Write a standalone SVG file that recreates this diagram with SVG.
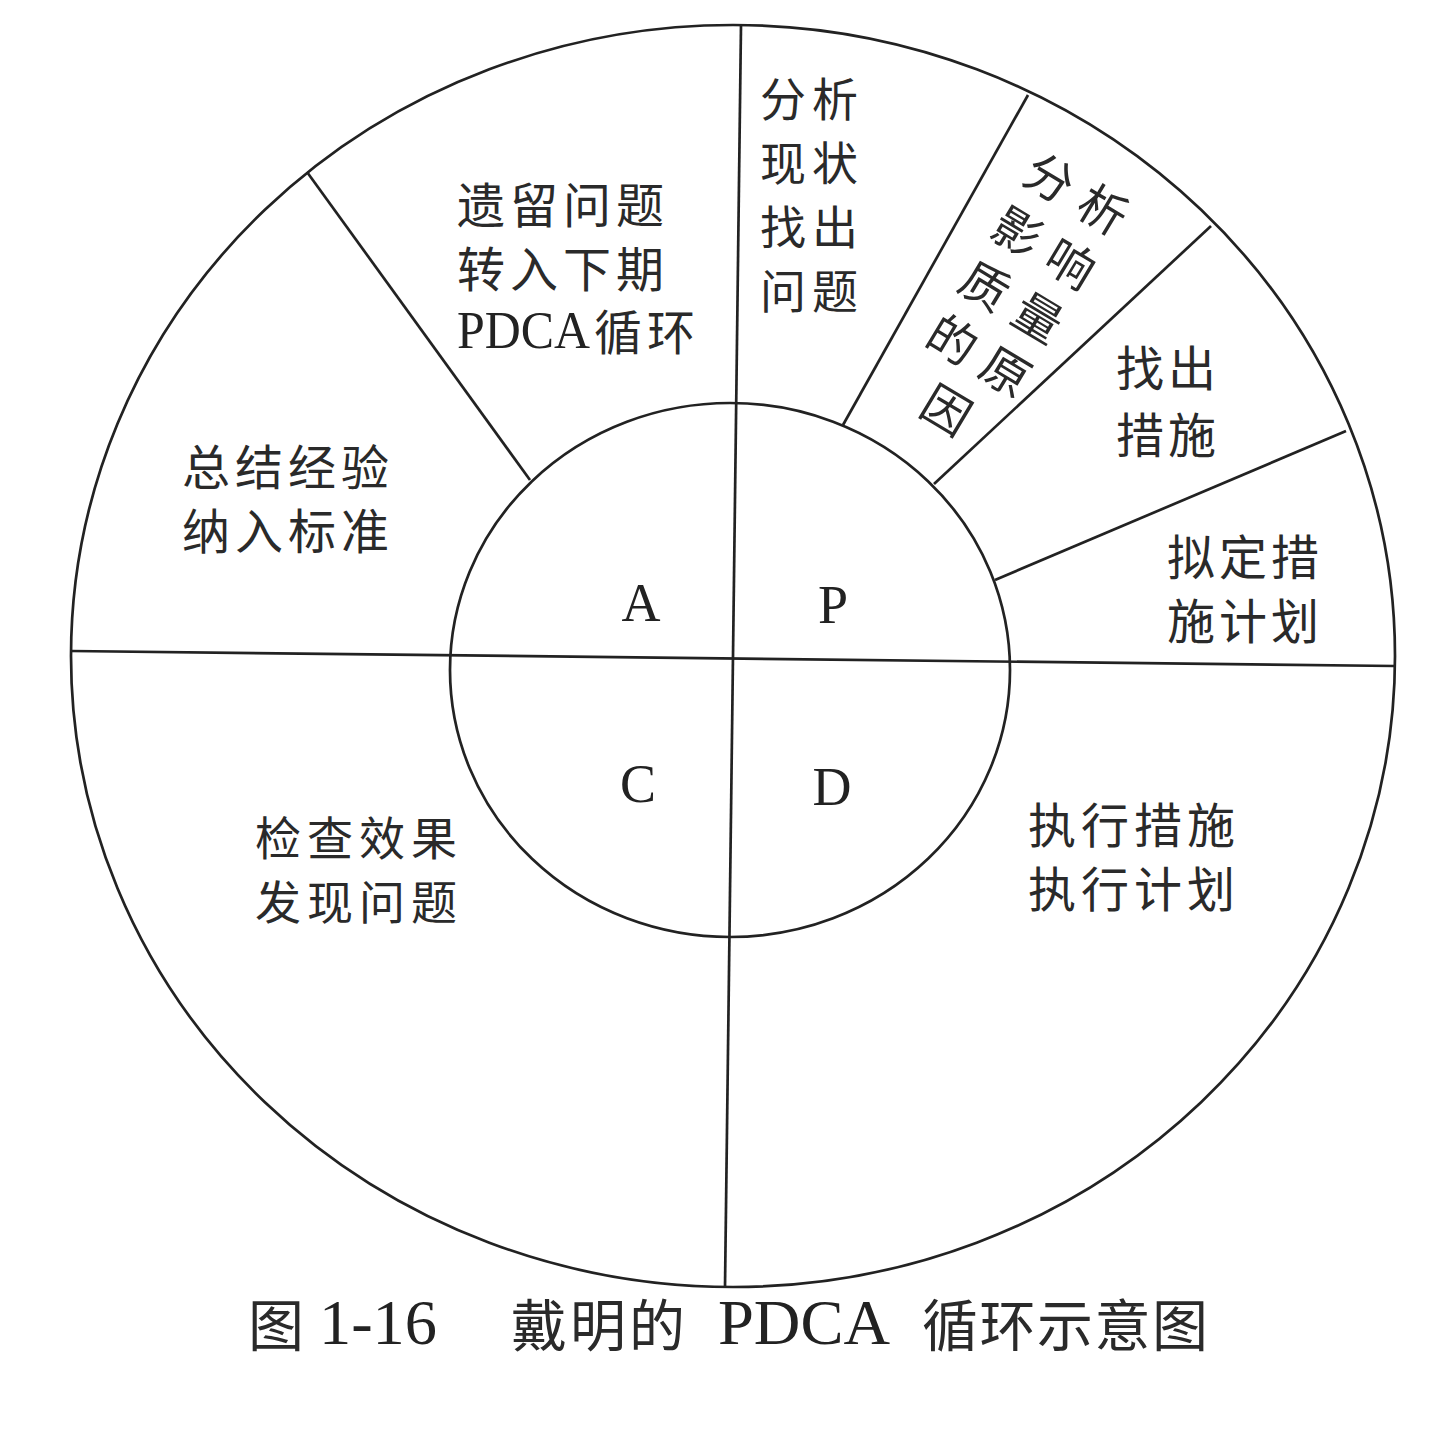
<svg xmlns="http://www.w3.org/2000/svg" width="1450" height="1440" viewBox="0 0 1450 1440">
<style>
.ln{fill:none;stroke:#222;stroke-width:2.7}
.cn{font-family:'Noto Sans CJK SC','Noto Sans CJK TC',sans-serif;font-size:48px;letter-spacing:4px;fill:#2a2a2a;dominant-baseline:central}
.w{letter-spacing:5px}
.s{font-size:46px;letter-spacing:6px}
.lt{font-family:'Liberation Serif','Times New Roman',serif;fill:#222;dominant-baseline:central}
.big{font-size:54px;text-anchor:middle}
</style>
<rect width="1450" height="1440" fill="#fff"/>
<g id="connectors">
<ellipse class="ln" cx="733" cy="656" rx="662" ry="631"/>
<ellipse class="ln" cx="730" cy="670" rx="280" ry="267"/>
<line class="ln" x1="741" y1="25" x2="725" y2="1287"/>
<line class="ln" x1="71" y1="651" x2="1395" y2="666"/>
<line class="ln" x1="307" y1="172" x2="530" y2="480"/>
<line class="ln" x1="1028" y1="95" x2="843" y2="425"/>
<line class="ln" x1="1211" y1="226" x2="934" y2="484"/>
<line class="ln" x1="1346" y1="431" x2="995" y2="580"/>
</g>
<g id="node-A"><text class="lt big" x="641" y="603">A</text></g>
<g id="node-P"><text class="lt big" x="833" y="605">P</text></g>
<g id="node-C"><text class="lt big" x="638" y="784">C</text></g>
<g id="node-D"><text class="lt big" x="832" y="787">D</text></g>
<g id="node-leftover">
<text class="cn w" x="457" y="202">遗留问题</text>
<text class="cn w" x="457" y="266">转入下期</text>
<text class="lt" x="457" y="330" style="font-size:52px" textLength="133" lengthAdjust="spacingAndGlyphs">PDCA</text>
<text class="cn w" x="594" y="329">循环</text>
</g>
<g id="node-analyze-status">
<text class="cn s" x="760" y="96">分析</text>
<text class="cn s" x="760" y="160">现状</text>
<text class="cn s" x="760" y="224">找出</text>
<text class="cn s" x="760" y="288">问题</text>
</g>
<g id="node-analyze-causes" transform="translate(1078,191) rotate(31)">
<text class="cn" x="-31 31" y="0" text-anchor="middle" style="letter-spacing:0">分析</text>
<text class="cn" x="-31 31" y="63" text-anchor="middle" style="letter-spacing:0">影响</text>
<text class="cn" x="-31 31" y="126" text-anchor="middle" style="letter-spacing:0">质量</text>
<text class="cn" x="-31 31" y="189" text-anchor="middle" style="letter-spacing:0">的原</text>
<text class="cn" x="0" y="252" text-anchor="middle" style="letter-spacing:0">因</text>
</g>
<g id="node-find-measures">
<text class="cn" x="1116" y="365">找出</text>
<text class="cn" x="1116" y="432">措施</text>
</g>
<g id="node-plan">
<text class="cn" x="1167" y="554">拟定措</text>
<text class="cn" x="1167" y="618">施计划</text>
</g>
<g id="node-summarize">
<text class="cn w" x="182" y="464">总结经验</text>
<text class="cn w" x="182" y="528">纳入标准</text>
</g>
<g id="node-check">
<text class="cn s" x="255" y="835">检查效果</text>
<text class="cn s" x="255" y="899">发现问题</text>
</g>
<g id="node-do">
<text class="cn w" x="1028" y="822">执行措施</text>
<text class="cn w" x="1028" y="886">执行计划</text>
</g>
<g id="caption">
<text class="cn" x="248" y="1321" style="font-size:56px;letter-spacing:0">图</text>
<text class="lt" x="319" y="1322" style="font-size:64px" textLength="118" lengthAdjust="spacingAndGlyphs">1-16</text>
<text class="cn" x="511" y="1321" style="font-size:56px;letter-spacing:3px">戴明的</text>
<text class="lt" x="718" y="1322" style="font-size:64px" textLength="172" lengthAdjust="spacingAndGlyphs">PDCA</text>
<text class="cn" x="922" y="1321" style="font-size:56px;letter-spacing:1.5px">循环示意图</text>
</g>
</svg>
